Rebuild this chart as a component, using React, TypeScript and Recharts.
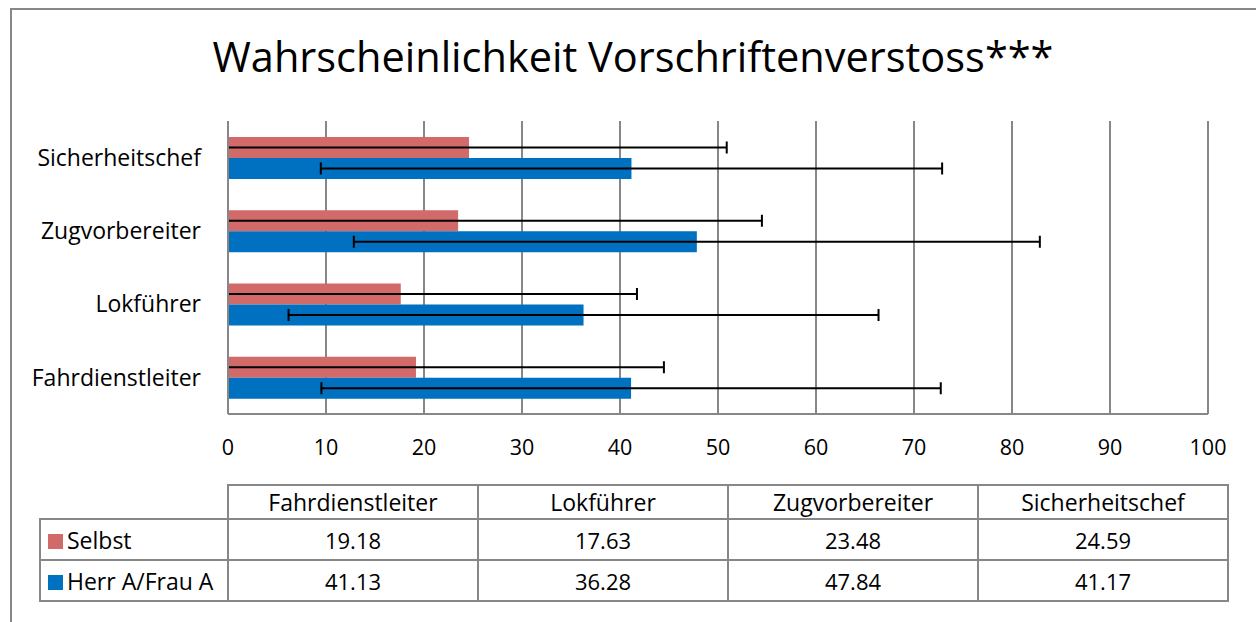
import { Bar, BarChart, CartesianGrid, XAxis, YAxis } from 'recharts'

const categories = ['Fahrdienstleiter', 'Lokführer', 'Zugvorbereiter', 'Sicherheitschef']
const selbst = [19.18, 17.63, 23.48, 24.59]
const herr = [41.13, 36.28, 47.84, 41.17]
// error bar half-widths
const selbstErr = [25.3, 24.1, 31.0, 26.3]
const herrErr = [31.6, 30.1, 35.0, 31.7]
const xTicks = [0, 10, 20, 30, 40, 50, 60, 70, 80, 90, 100]

const RED = '#D26A6A'
const BLUE = '#0070C0'
const GRID = '#878787'
const FONT = '"Open Sans", Lato, sans-serif'

const data = categories.map((name, i) => ({
  name,
  selbst: selbst[i],
  herr: herr[i],
  selbstErr: selbstErr[i],
  herrErr: herrErr[i],
}))

// bar with its error bar; the error line is cut off at the axis (value 0)
// like in the original, so no left cap when it would go below zero
function barWithError(valueKey: string, errKey: string) {
  return (props: any) => {
    const { x, y, width, height, fill, payload } = props
    const perUnit = width / payload[valueKey]
    const err = payload[errKey] * perUnit
    const end = x + width
    const left = Math.max(x, end - err)
    const right = end + err
    const cy = y + height / 2
    return (
      <g>
        <rect x={x} y={y} width={width} height={height} fill={fill} />
        <line x1={left} x2={right} y1={cy} y2={cy} stroke="#000" strokeWidth={2} />
        <line x1={right} x2={right} y1={cy - 6} y2={cy + 6} stroke="#000" strokeWidth={2} />
        {end - err >= x && (
          <line x1={left} x2={left} y1={cy - 6} y2={cy + 6} stroke="#000" strokeWidth={2} />
        )}
      </g>
    )
  }
}

const cell: React.CSSProperties = {
  border: `2px solid ${GRID}`,
  width: 248,
  textAlign: 'center',
  padding: 0,
  fontSize: 22,
}

const headCell: React.CSSProperties = { ...cell, fontSize: 23 }

const legendCell: React.CSSProperties = {
  ...cell,
  width: 179,
  textAlign: 'left',
  paddingLeft: 7,
  fontSize: 23,
  whiteSpace: 'nowrap',
}

export default function App() {
  return (
    <div style={{ position: 'absolute', left: 0, top: 0, width: 1256, height: 622, background: '#fff', fontFamily: FONT, overflow: 'hidden' }}>
      <div style={{ position: 'absolute', left: 10, top: 8, width: 1300, height: 700, borderLeft: `2px solid ${GRID}`, borderTop: `2px solid ${GRID}` }} />
      <div style={{ position: 'absolute', left: 10, top: 28, width: 1246, textAlign: 'center', fontSize: 41.5, color: '#000', whiteSpace: 'nowrap' }}>
        Wahrscheinlichkeit Vorschriftenverstoss***
      </div>
      <div style={{ position: 'absolute', left: 0, top: 0 }}>
        <BarChart
          width={1256}
          height={470}
          data={data}
          layout="vertical"
          barSize={21}
          barGap={0}
          margin={{ top: 121, right: 48, left: 10, bottom: 6 }}
        >
          <CartesianGrid horizontal={false} stroke={GRID} strokeWidth={2} />
          <XAxis
            type="number"
            domain={[0, 100]}
            ticks={xTicks}
            height={50}
            tickLine={false}
            tickSize={0}
            tickMargin={26}
            axisLine={{ stroke: GRID, strokeWidth: 2 }}
            tick={{ fill: '#000', fontSize: 21.5, fontFamily: FONT }}
          />
          <YAxis
            type="category"
            dataKey="name"
            reversed
            width={218}
            tickLine={false}
            tickSize={0}
            tickMargin={27}
            axisLine={{ stroke: GRID, strokeWidth: 2 }}
            tick={{ fill: '#000', fontSize: 23, fontFamily: FONT }}
          />
          <Bar dataKey="selbst" fill={RED} isAnimationActive={false} shape={barWithError('selbst', 'selbstErr')} />
          <Bar dataKey="herr" fill={BLUE} isAnimationActive={false} shape={barWithError('herr', 'herrErr')} />
        </BarChart>
      </div>
      <table style={{ position: 'absolute', left: 39, top: 484, borderCollapse: 'collapse', fontFamily: FONT, color: '#000' }}>
        <tbody>
          <tr style={{ height: 34 }}>
            <td style={{ width: 186, padding: 0 }} />
            {categories.map((c) => (
              <td key={c} style={headCell}>{c}</td>
            ))}
          </tr>
          <tr style={{ height: 41 }}>
            <td style={legendCell}>
              <span style={{ display: 'inline-block', width: 15, height: 15, background: RED, marginRight: 4 }} />
              Selbst
            </td>
            {selbst.map((v, i) => (
              <td key={i} style={cell}>{v.toFixed(2)}</td>
            ))}
          </tr>
          <tr style={{ height: 41 }}>
            <td style={legendCell}>
              <span style={{ display: 'inline-block', width: 15, height: 15, background: BLUE, marginRight: 4 }} />
              Herr A/Frau A
            </td>
            {herr.map((v, i) => (
              <td key={i} style={cell}>{v.toFixed(2)}</td>
            ))}
          </tr>
        </tbody>
      </table>
    </div>
  )
}
